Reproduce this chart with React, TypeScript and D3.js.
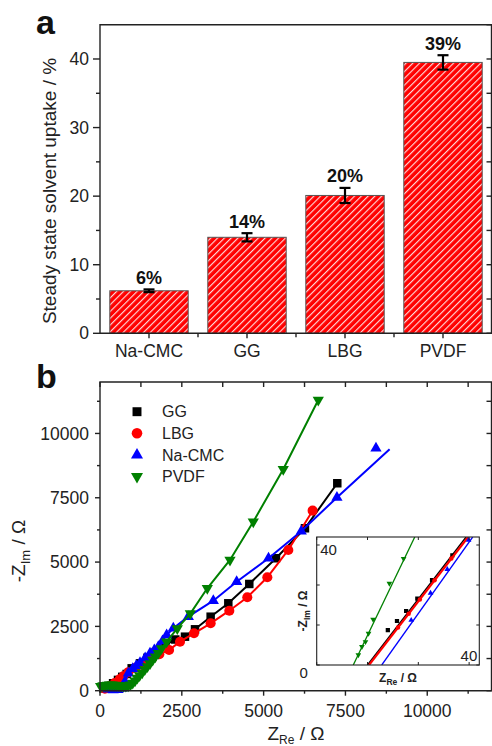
import * as d3 from 'd3';

// panel a: solvent uptake
const categories = ['Na-CMC', 'GG', 'LBG', 'PVDF'];
const uptake = [6.2, 14.0, 20.1, 39.5];
const uptakeErr = [0.2, 0.6, 1.1, 1.05];
const uptakeLabels = ['6%', '14%', '20%', '39%'];
const uptakeTicks = [0, 10, 20, 30, 40];

// panel b: impedance spectra [Z_Re, -Z_Im]
const ggPts: [number, number][] = [
  [100, 90], [250, 180], [400, 290], [550, 420], [680, 540], [815, 650], [968, 870],
  [1222, 1065], [1450, 1280], [1700, 1500], [2000, 1780], [2300, 1990], [2597, 2100],
  [2903, 2387], [3381, 2877], [3921, 3398], [4562, 4149], [5377, 5148], [6263, 6314], [7251, 8064],
];
const lbgPts: [number, number][] = [
  [150, 80], [300, 180], [450, 300], [600, 440], [713, 560], [866, 720], [1100, 900],
  [1350, 1080], [1600, 1270], [1813, 1420], [2110, 1580], [2444, 1905], [2872, 2232],
  [3381, 2620], [3951, 3110], [4501, 3631], [5113, 4409], [5754, 5470], [6497, 6999],
];
const naCmcLine: [number, number][] = [
  [250, 60], [400, 30], [550, 40], [670, 100], [760, 350], [866, 676], [1000, 850],
  [1222, 1089], [1528, 1454], [1782, 1711], [2037, 2166], [2240, 2426], [2699, 2877],
  [3463, 3500], [4176, 4238], [5150, 5150], [6150, 6200], [7240, 7510], [8850, 9390],
];
const naCmcMarks: [number, number][] = [
  [250, 60], [400, 30], [550, 40], [670, 100], [760, 350], [866, 676], [1000, 850],
  [1110, 970], [1222, 1089], [1380, 1270], [1528, 1454], [1660, 1580], [1782, 1711],
  [1910, 1930], [2037, 2166], [2240, 2426], [2699, 2877], [3463, 3500], [4176, 4238],
  [5150, 5150], [6150, 6200], [7240, 7510], [8433, 9424],
];
const pvdfPts: [number, number][] = [
  [20, 170], [90, 200], [160, 215], [230, 225], [300, 230], [370, 230], [440, 225],
  [510, 215], [580, 205], [650, 195], [720, 185], [790, 180], [860, 190], [930, 230],
  [1000, 300], [1070, 390], [1140, 490], [1210, 590], [1290, 700], [1370, 820],
  [1450, 940], [1530, 1060], [1610, 1190], [1690, 1320], [1780, 1460], [1880, 1640],
  [2037, 1905], [2362, 2420], [2760, 3000], [3279, 3981], [3972, 5082], [4684, 6571],
  [5600, 8608], [6670, 11300],
];
const zTicks = [0, 2500, 5000, 7500, 10000];
const zMinor = [1250, 3750, 6250, 8750, 11250];

// inset: high-frequency intercept
const insetGG: [number, number][] = [[14.0, 8.7], [15.8, 11.0], [17.6, 13.5], [19.8, 16.6], [22.7, 21.2], [26.7, 27.4]];
const insetLBG: [number, number][] = [[16.0, 9.4], [18.1, 12.8], [20.3, 16.4], [23.2, 21.2], [26.5, 26.6]];
const insetNaCmc: [number, number][] = [[18.6, 11.2], [22.4, 18.0], [25.7, 23.9], [29.9, 31.2]];
const insetPVDF: [number, number][] = [[8.2, 2.5], [8.9, 4.6], [9.6, 5.8], [10.2, 7.9], [11.1, 11.4], [14.3, 20.4], [17.1, 26.6]];
const insetGGFit: [number, number][] = [[10.0, 0], [29.4, 32]];
const insetLBGFit: [number, number][] = [[10.3, 0], [29.8, 32]];
const insetNaCmcFit: [number, number][] = [[12.8, 0], [30.7, 32]];
const insetPVDFFit: [number, number][] = [[7.2, 0], [19.3, 32]];
const insetTicks = [0, 10, 20, 30];

const FONT = "'Liberation Sans', Arial, sans-serif";
const AX = '#222';

type Shape = 'square' | 'circle' | 'up' | 'down';
function symbolPath(shape: Shape, size: number) {
  const t = shape === 'square' ? d3.symbolSquare : shape === 'circle' ? d3.symbolCircle : d3.symbolTriangle;
  return d3.symbol().type(t).size(size)() as string;
}

function Marker({ x, y, shape, color, size }: { x: number; y: number; shape: Shape; color: string; size: number }) {
  return (
    <path
      d={symbolPath(shape, size)}
      transform={`translate(${x},${y})${shape === 'down' ? ' rotate(180)' : ''}`}
      fill={color}
    />
  );
}

function PanelA() {
  const x = d3.scaleBand().domain(categories).range([100, 492]).paddingInner(0.2).paddingOuter(0.1);
  const y = d3.scaleLinear().domain([0, 45]).range([333.3, 24.7]);
  const right = 491.5;
  const minor = d3.range(5, 45, 10);
  const all5 = d3.range(0, 46, 5);
  const bounds = categories.slice(1).map(c => (x(c) as number) - x.step() * 0.1);
  return (
    <g fontFamily={FONT}>
      <defs>
        <pattern id="hatch" patternUnits="userSpaceOnUse" width={4.8} height={4.8} patternTransform="rotate(45)">
          <rect width={4.8} height={4.8} fill="#ff0000" />
          <line x1={0.6} y1={0} x2={0.6} y2={4.8} stroke="#ffe6e6" strokeWidth={1.1} />
        </pattern>
      </defs>
      {categories.map((c, i) => (
        <rect key={c} x={x(c)} y={y(uptake[i])} width={x.bandwidth()} height={y(0) - y(uptake[i])}
          fill="url(#hatch)" stroke="#555" strokeWidth={1} />
      ))}
      {categories.map((c, i) => {
        const cx = (x(c) as number) + x.bandwidth() / 2;
        const top = y(uptake[i] + uptakeErr[i]);
        const bot = y(uptake[i] - uptakeErr[i]);
        return (
          <g key={c}>
            <line x1={cx} x2={cx} y1={top} y2={bot} stroke="#000" strokeWidth={2.2} />
            <line x1={cx - 5.5} x2={cx + 5.5} y1={top} y2={top} stroke="#000" strokeWidth={2.2} />
            <line x1={cx - 5.5} x2={cx + 5.5} y1={bot} y2={bot} stroke="#000" strokeWidth={2.2} />
            <text x={cx} y={top - 5.5} textAnchor="middle" fontSize={18} fontWeight="bold" fill="#111">
              {uptakeLabels[i]}
            </text>
          </g>
        );
      })}
      <path d={`M100,${y(0)}V24.7H${right}V${y(0)}Z`} fill="none" stroke={AX} strokeWidth={1.4} />
      {uptakeTicks.map(t => (
        <g key={t}>
          <line x1={93} x2={100} y1={y(t)} y2={y(t)} stroke={AX} strokeWidth={1.4} />
          <text x={89} y={y(t)} dy="0.35em" textAnchor="end" fontSize={17.5} fill={AX}>{t}</text>
        </g>
      ))}
      {minor.map(t => (
        <line key={t} x1={96} x2={100} y1={y(t)} y2={y(t)} stroke={AX} strokeWidth={1.4} />
      ))}
      {all5.map(t => (
        <line key={t} x1={right - 5} x2={right} y1={y(t)} y2={y(t)} stroke={AX} strokeWidth={1.4} />
      ))}
      {categories.map(c => {
        const cx = (x(c) as number) + x.bandwidth() / 2;
        return (
          <g key={c}>
            <line x1={cx} x2={cx} y1={y(0)} y2={y(0) + 5} stroke={AX} strokeWidth={1.4} />
            <text x={cx} y={357} textAnchor="middle" fontSize={17.5} fill={AX}>{c}</text>
          </g>
        );
      })}
      {bounds.map((b, i) => (
        <line key={i} x1={b} x2={b} y1={y(0)} y2={y(0) + 4} stroke={AX} strokeWidth={1.4} />
      ))}
      <text transform="translate(55.5,191) rotate(-90)" textAnchor="middle" fontSize={19} fill={AX}>
        Steady state solvent uptake / %
      </text>
      <text x={36} y={33.5} fontSize={34} fontWeight="bold" fill="#111">a</text>
    </g>
  );
}

function PanelB() {
  const x = d3.scaleLinear().domain([0, 12000]).range([100, 492.7]);
  const y = d3.scaleLinear().domain([0, 12000]).range([690.7, 382]);
  const right = 491.5;
  const line = d3.line<[number, number]>().x(d => x(d[0])).y(d => y(d[1]));
  const series = [
    { name: 'GG', color: '#000000', shape: 'square' as Shape, size: 72, line: ggPts, marks: ggPts },
    { name: 'LBG', color: '#ff0000', shape: 'circle' as Shape, size: 80, line: lbgPts, marks: lbgPts },
    { name: 'Na-CMC', color: '#0000ff', shape: 'up' as Shape, size: 55, line: naCmcLine, marks: naCmcMarks },
    { name: 'PVDF', color: '#008000', shape: 'down' as Shape, size: 55, line: pvdfPts, marks: pvdfPts },
  ];

  const xi = d3.scaleLinear().domain([0, 32]).range([316.7, 479.3]);
  const yi = d3.scaleLinear().domain([0, 32]).range([665, 537]);
  const lineI = d3.line<[number, number]>().x(d => xi(d[0])).y(d => yi(d[1]));
  const inset = [
    { color: '#000000', shape: 'square' as Shape, size: 18, fit: insetGGFit, marks: insetGG, w: 1.4 },
    { color: '#ff0000', shape: 'circle' as Shape, size: 16, fit: insetLBGFit, marks: insetLBG, w: 2.2 },
    { color: '#0000ff', shape: 'up' as Shape, size: 14, fit: insetNaCmcFit, marks: insetNaCmc, w: 1.3 },
    { color: '#008000', shape: 'down' as Shape, size: 14, fit: insetPVDFFit, marks: insetPVDF, w: 1.3 },
  ];

  return (
    <g fontFamily={FONT}>
      <defs>
        <clipPath id="insetClip">
          <rect x={xi(0)} y={yi(32)} width={xi(32) - xi(0)} height={yi(0) - yi(32)} />
        </clipPath>
      </defs>
      {series.map(s => (
        <g key={s.name}>
          <path d={line(s.line) as string} fill="none" stroke={s.color} strokeWidth={2} />
          {s.marks.map((p, i) => (
            <Marker key={i} x={x(p[0])} y={y(p[1])} shape={s.shape} color={s.color} size={s.size} />
          ))}
        </g>
      ))}
      <path d={`M100,${y(0)}V382H${right}V${y(0)}Z`} fill="none" stroke={AX} strokeWidth={1.4} />
      {zTicks.map(t => (
        <g key={t}>
          <line x1={95} x2={100} y1={y(t)} y2={y(t)} stroke={AX} strokeWidth={1.4} />
          <line x1={right - 5} x2={right} y1={y(t)} y2={y(t)} stroke={AX} strokeWidth={1.4} />
          <text x={89} y={y(t)} dy="0.35em" textAnchor="end" fontSize={17.5} fill={AX}>{t}</text>
          <line x1={x(t)} x2={x(t)} y1={y(0)} y2={y(0) + 5} stroke={AX} strokeWidth={1.4} />
          <line x1={x(t)} x2={x(t)} y1={382} y2={387} stroke={AX} strokeWidth={1.4} />
          <text x={x(t)} y={716.5} textAnchor="middle" fontSize={17.5} fill={AX}>{t}</text>
        </g>
      ))}
      {zMinor.map(t => (
        <g key={t}>
          <line x1={97} x2={100} y1={y(t)} y2={y(t)} stroke={AX} strokeWidth={1.4} />
          <line x1={right - 5} x2={right} y1={y(t)} y2={y(t)} stroke={AX} strokeWidth={1.4} />
          <line x1={x(t)} x2={x(t)} y1={y(0)} y2={y(0) + 3} stroke={AX} strokeWidth={1.4} />
          <line x1={x(t)} x2={x(t)} y1={382} y2={387} stroke={AX} strokeWidth={1.4} />
        </g>
      ))}
      <text transform="translate(25,551) rotate(-90)" textAnchor="middle" fontSize={19} fill={AX}>
        -Z<tspan fontSize={13} dy={5}>Im</tspan><tspan dy={-5}> / Ω</tspan>
      </text>
      <text x={296} y={740} textAnchor="middle" fontSize={19} fill={AX}>
        Z<tspan fontSize={12} dy={4}>Re</tspan><tspan dy={-4}> / Ω</tspan>
      </text>
      {series.map((s, i) => (
        <g key={s.name} transform={`translate(137,${411.7 + i * 21.6})`}>
          <Marker x={0} y={0} shape={s.shape} color={s.color} size={s.size + 8} />
          <text x={25} y={0} dy="0.36em" fontSize={16} fill={AX}>{s.name}</text>
        </g>
      ))}

      {/* inset */}
      <rect x={xi(0)} y={yi(32)} width={xi(32) - xi(0)} height={yi(0) - yi(32)} fill="#fff" />
      <g clipPath="url(#insetClip)">
        {inset.map((s, k) => (
          <g key={k}>
            <path d={lineI(s.fit) as string} fill="none" stroke={s.color} strokeWidth={s.w} />
            {s.marks.map((p, i) => (
              <Marker key={i} x={xi(p[0])} y={yi(p[1])} shape={s.shape} color={s.color} size={s.size} />
            ))}
          </g>
        ))}
      </g>
      <rect x={xi(0)} y={yi(32)} width={xi(32) - xi(0)} height={yi(0) - yi(32)} fill="none" stroke={AX} strokeWidth={1.1} />
      {insetTicks.map(t => (
        <g key={t}>
          <line x1={xi(t)} x2={xi(t)} y1={yi(0)} y2={yi(0) - 3} stroke={AX} strokeWidth={1} />
          <line x1={xi(t)} x2={xi(t)} y1={yi(32)} y2={yi(32) + 3} stroke={AX} strokeWidth={1} />
          <line x1={xi(0)} x2={xi(0) + 3} y1={yi(t)} y2={yi(t)} stroke={AX} strokeWidth={1} />
          <line x1={xi(32) - 3} x2={xi(32)} y1={yi(t)} y2={yi(t)} stroke={AX} strokeWidth={1} />
        </g>
      ))}
      <text x={xi(0) + 3.5} y={yi(32) + 18} fontSize={15} fill={AX}>40</text>
      <text x={xi(0) - 13} y={yi(0) + 13} textAnchor="middle" fontSize={15} fill={AX}>0</text>
      <text x={xi(32) - 2} y={yi(0) - 4.5} textAnchor="end" fontSize={15} fill={AX}>40</text>
      <text x={(xi(0) + xi(32)) / 2} y={682} textAnchor="middle" fontSize={12} fontWeight="bold" fill={AX}>
        Z<tspan fontSize={8.5} dy={3}>Re</tspan><tspan dy={-3}> / Ω</tspan>
      </text>
      <text transform="translate(307,611) rotate(-90)" textAnchor="middle" fontSize={12} fontWeight="bold" fill={AX}>
        -Z<tspan fontSize={8.5} dy={3}>Im</tspan><tspan dy={-3}> / Ω</tspan>
      </text>
      <text x={36} y={388} fontSize={34} fontWeight="bold" fill="#111">b</text>
    </g>
  );
}

export default function App() {
  return (
    <svg width={492} height={746} style={{ position: 'absolute', left: 0, top: 0, background: '#fff' }}>
      <rect width={492} height={746} fill="#fff" />
      <PanelA />
      <PanelB />
    </svg>
  );
}
